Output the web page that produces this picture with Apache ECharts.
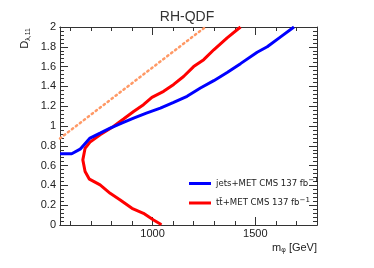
<!DOCTYPE html>
<html>
<head>
<meta charset="utf-8">
<script src="https://cdn.jsdelivr.net/npm/echarts@6/dist/echarts.min.js"></script>
<style>html,body{margin:0;padding:0;background:#fff}#c{width:374px;height:268px}</style>
</head>
<body>
<div id="c"></div>
<script>
// data
const jetsM = [550, 607, 648, 696, 745, 794, 850, 908, 970, 1038, 1100, 1168, 1233, 1298, 1363, 1428, 1509, 1558, 1623, 1688];
const jetsD = [0.72, 0.72, 0.766, 0.878, 0.928, 0.979, 1.03, 1.08, 1.13, 1.18, 1.235, 1.30, 1.384, 1.458, 1.54, 1.63, 1.745, 1.80, 1.90, 2.0];
const ttM = [1428, 1363, 1298, 1249, 1200, 1151, 1103, 1054, 997, 956, 908, 859, 810, 745, 696, 672, 661, 672, 693, 745, 794, 843, 900, 956, 1005, 1038, 1042];
const ttD = [2.0, 1.89, 1.77, 1.67, 1.60, 1.50, 1.42, 1.35, 1.29, 1.215, 1.147, 1.07, 0.995, 0.911, 0.837, 0.776, 0.658, 0.54, 0.463, 0.405, 0.32, 0.253, 0.169, 0.118, 0.05, 0.01, 0.0];
const refM = [550, 1257];
const refD = [0.875, 2.0];
const xMajorTicks = [1000, 1500];
const xMinorTicks = [600, 700, 800, 900, 1000, 1100, 1200, 1300, 1400, 1500, 1600, 1700, 1800];
const seriesNames = ['jets+MET CMS 137 fb', 't\u0074\u0304+MET CMS 137 fb'];

const zip = (a, b) => a.map((v, i) => [v, b[i]]);
const axisColor = '#333';
const font = 'Liberation Sans, Arial, sans-serif';

function xAx(pos, major, labels) {
  return {
    type: 'value', min: 550, max: 1800, position: pos,
    axisLine: { show: true, onZero: false, lineStyle: { color: axisColor, width: 1 } },
    axisTick: { show: true, inside: true, length: major ? 8 : 4, customValues: major ? xMajorTicks : xMinorTicks, lineStyle: { color: axisColor } },
    axisLabel: labels ? { show: true, customValues: xMajorTicks, formatter: v => String(v), margin: 3, fontSize: 11, color: '#222', fontFamily: font } : { show: false },
    splitLine: { show: false }
  };
}
function yAx(pos, labels) {
  return {
    type: 'value', min: 0, max: 2, interval: 0.2, position: pos,
    axisLine: { show: true, onZero: false, lineStyle: { color: axisColor, width: 1 } },
    axisTick: { show: true, inside: true, length: 8, lineStyle: { color: axisColor } },
    minorTick: { show: true, splitNumber: 5, length: 4, lineStyle: { color: axisColor } },
    axisLabel: labels ? { show: true, margin: 4, fontSize: 11, color: '#222', fontFamily: font } : { show: false },
    splitLine: { show: false }, minorSplitLine: { show: false }
  };
}

const xMain = xAx('bottom', true, true);
xMain.name = '{a|m}{s|\u03c6}{a| [GeV]}';
xMain.nameLocation = 'end';
xMain.nameGap = 0;
xMain.nameTextStyle = {
  align: 'right', verticalAlign: 'top', padding: [16, 0, 0, 0],
  rich: { a: { fontSize: 11, color: '#222', fontFamily: font }, s: { fontSize: 7, color: '#222', fontFamily: font, padding: [6, 0, 0, 0] } }
};

const chart = echarts.init(document.getElementById('c'), null, { renderer: 'canvas' });
chart.setOption({
  animation: false,
  backgroundColor: '#fff',
  title: { text: 'RH-QDF', left: 'center', top: 5, textStyle: { fontSize: 14, fontWeight: 'normal', color: '#333', fontFamily: font } },
  grid: { left: 60, right: 57, top: 27, bottom: 43, containLabel: false },
  xAxis: [xMain, xAx('bottom', false, false), xAx('top', true, false), xAx('top', false, false)],
  yAxis: [yAx('left', true), yAx('right', false)],
  legend: {
    orient: 'vertical', left: 184, top: 172, itemGap: 8,
    itemWidth: 22, itemHeight: 3, icon: 'rect',
    data: seriesNames,
    formatter: n => '{a|' + n + '}{s|\u2212' + '1}',
    textStyle: { fontFamily: font, rich: {
      a: { fontSize: 9.5, lineHeight: 13, color: '#222', fontFamily: 'DejaVu Sans Condensed, Liberation Sans, sans-serif' },
      s: { fontSize: 7, lineHeight: 8, verticalAlign: 'top', color: '#111', fontFamily: 'DejaVu Sans, sans-serif' }
    } }
  },
  graphic: [{
    type: 'text', x: 25, y: 28, rotation: Math.PI / 2,
    style: {
      text: '{a|D}{s|\u03bb,11}', align: 'right', verticalAlign: 'middle',
      rich: { a: { fontSize: 11, fill: '#222', fontFamily: font }, s: { fontSize: 7, fill: '#222', fontFamily: font, padding: [6, 0, 0, 0] } }
    }
  }],
  series: [
    { name: 'ref', type: 'line', data: zip(refM, refD), showSymbol: false, lineStyle: { color: '#ff9966', width: 2.5, type: [1.5, 3.5], cap: 'round' }, silent: true, z: 1 },
    { name: seriesNames[0], type: 'line', data: zip(jetsM, jetsD), showSymbol: false, color: '#0000ff', lineStyle: { color: '#0000ff', width: 3 }, z: 3 },
    { name: seriesNames[1], type: 'line', data: zip(ttM, ttD), showSymbol: false, color: '#ff0000', lineStyle: { color: '#ff0000', width: 3 }, z: 2 }
  ]
});
</script>
</body>
</html>
